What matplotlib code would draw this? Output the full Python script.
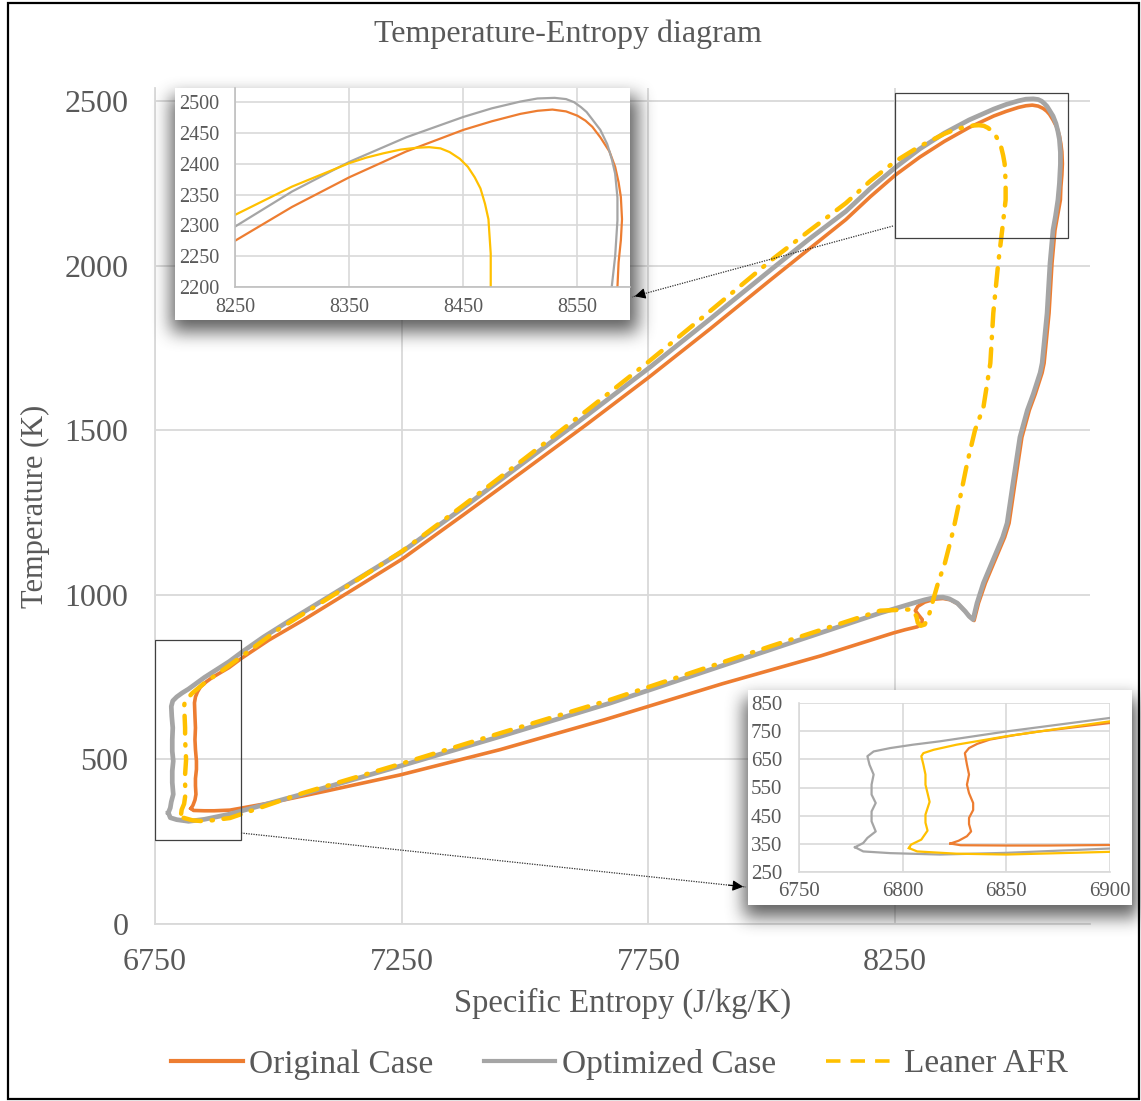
import numpy as np
import matplotlib
matplotlib.use("Agg")
import matplotlib.pyplot as plt
from matplotlib.lines import Line2D
from matplotlib.patches import Rectangle, FancyArrowPatch

plt.rcParams['font.family'] = ['Liberation Serif', 'DejaVu Serif']

# ---------------- data: closed T-s loops (entropy J/kg/K, temperature K) ----------------
orig_s = [6823, 6827, 6831, 6833, 6832, 6832, 6834, 6834, 6832, 6831, 6832, 6831, 6830,
          6832, 6836, 6842, 6854, 6866, 6900, 6926, 6980, 7050, 7150, 7250, 7375, 7500,
          7625, 7750, 7875, 8000, 8075, 8150, 8200, 8250, 8300, 8350, 8400, 8450, 8475,
          8500, 8515, 8528, 8540, 8550, 8557, 8563, 8570, 8578, 8583, 8586, 8588, 8589,
          8588, 8586, 8585, 8579, 8574, 8568, 8562, 8552, 8548, 8534, 8522, 8507, 8493,
          8481, 8472, 8461, 8433, 8419, 8410, 8402, 8394, 8378, 8362, 8347, 8330, 8310,
          8296, 8291, 8298, 8305, 8304, 8295, 8270, 8246, 8100, 7900, 7660, 7450, 7247,
          7100, 6980, 6902, 6870, 6850, 6828, 6823]
orig_T = [351, 361, 377, 394, 420, 442, 470, 495, 530, 560, 596, 631, 672,
          690, 705, 720, 736, 749, 779, 808, 862, 923, 1015, 1108, 1243, 1380,
          1518, 1660, 1808, 1960, 2050, 2140, 2210, 2275, 2330, 2378, 2420, 2455, 2469,
          2481, 2486, 2488, 2485, 2478, 2470, 2460, 2443, 2420, 2395, 2370, 2346, 2310,
          2276, 2240, 2200, 2150, 2108, 2008, 1856, 1704, 1675, 1610, 1561, 1479, 1340,
          1218, 1175, 1136, 1036, 975, 922, 932, 947, 972, 985, 989, 987, 978,
          965, 952, 938, 925, 912, 903, 894, 884, 815, 730, 620, 530, 453,
          405, 367, 346, 344, 344, 345, 351]

opt_s = [6777, 6781, 6783, 6787, 6785, 6785, 6787, 6785, 6785, 6786, 6784, 6783, 6786,
         6794, 6805, 6818, 6850, 6900, 6926, 6970, 7024, 7130, 7250, 7375, 7500, 7625,
         7750, 7875, 8000, 8075, 8150, 8200, 8250, 8300, 8350, 8400, 8450, 8475, 8500,
         8515, 8530, 8540, 8547, 8553, 8558, 8563, 8570, 8576, 8580, 8583, 8585, 8585,
         8583, 8580, 8575, 8570, 8564, 8558, 8548, 8544, 8530, 8518, 8503, 8489, 8477,
         8468, 8457, 8429, 8416, 8408, 8400, 8392, 8376, 8360, 8347, 8330, 8310, 8287,
         8220, 8000, 7672, 7450, 7247, 7050, 6902, 6850, 6818, 6794, 6781, 6777]
opt_T = [338, 353, 371, 394, 430, 465, 495, 525, 560, 596, 631, 661, 678,
         690, 702, 714, 749, 797, 826, 872, 923, 1020, 1130, 1265, 1405, 1545,
         1688, 1838, 1990, 2080, 2165, 2235, 2298, 2355, 2403, 2443, 2476, 2490, 2501,
         2506, 2507, 2505, 2500, 2492, 2484, 2472, 2455, 2432, 2408, 2384, 2345, 2308,
         2250, 2200, 2150, 2108, 2008, 1856, 1704, 1675, 1610, 1561, 1479, 1340, 1218,
         1175, 1136, 1036, 975, 925, 935, 950, 975, 988, 993, 992, 985, 975,
         945, 835, 671, 570, 480, 395, 334, 318, 312, 317, 323, 338]

lean_s = [6803, 6804, 6809, 6812, 6811, 6811, 6813, 6812, 6811, 6811, 6810, 6809, 6810,
          6815, 6826, 6850, 6900, 6950, 7000, 7125, 7250, 7375, 7500, 7625, 7750, 7875,
          8000, 8075, 8150, 8200, 8250, 8300, 8350, 8365, 8380, 8395, 8409, 8420, 8430,
          8438, 8447, 8454, 8460, 8465, 8469, 8472, 8474, 8474, 8467, 8459, 8449, 8443,
          8429, 8412, 8396, 8382, 8368, 8351, 8337, 8327, 8322, 8316, 8310, 8302, 8296,
          8293, 8285, 8220, 8000, 7672, 7450, 7247, 7050, 6902, 6850, 6826, 6807, 6803]
lean_T = [335, 347, 365, 397, 425, 454, 499, 530, 560, 596, 631, 661, 672,
          684, 702, 732, 785, 840, 895, 1012, 1132, 1272, 1415, 1560, 1708, 1862,
          2018, 2105, 2190, 2258, 2317, 2363, 2401, 2410, 2417, 2423, 2426, 2427, 2425,
          2419, 2408, 2395, 2378, 2360, 2335, 2310, 2254, 2200, 2108, 2008, 1856, 1704,
          1570, 1501, 1400, 1297, 1197, 1097, 1036, 984, 955, 928, 910, 906, 915,
          935, 956, 952, 845, 681, 580, 486, 398, 322, 312, 315, 323, 335]

series_labels = ["Original Case", "Optimized Case", "Leaner AFR"]

x_ticks = [6750, 7250, 7750, 8250]
y_ticks = [0, 500, 1000, 1500, 2000, 2500]
zoom_top_xticks = [8250, 8350, 8450, 8550]
zoom_top_yticks = [2200, 2250, 2300, 2350, 2400, 2450, 2500]
zoom_low_xticks = [6750, 6800, 6850, 6900]
zoom_low_yticks = [250, 350, 450, 550, 650, 750, 850]

ORANGE = "#ED7D31"
GRAY = "#A5A5A5"
YELLOW = "#FFC000"
TXT = "#595959"
GRID = "#D9D9D9"

W, H = 1141, 1101
fig = plt.figure(figsize=(W / 100, H / 100), dpi=100)
fig.patch.set_facecolor("white")


def frac(x0, y0, x1, y1):
    """pixel box (top-left origin) -> figure fraction [l, b, w, h]"""
    return [x0 / W, 1 - y1 / H, (x1 - x0) / W, (y1 - y0) / H]


# ---------------- main axes ----------------
ax = fig.add_axes(frac(155, 88, 1090, 924), zorder=0)
ax.set_xlim(6750, 8645)
ax.set_ylim(0, 2540)
ax.set_xticks(x_ticks)
ax.set_yticks(y_ticks)
ax.grid(True, color=GRID, lw=1.3)
ax.set_axisbelow(True)
for side in ["top", "right"]:
    ax.spines[side].set_visible(False)
for side in ["left", "bottom"]:
    ax.spines[side].set_color(GRID)
    ax.spines[side].set_linewidth(1.3)
ax.tick_params(length=0, labelsize=23, labelcolor=TXT)
ax.tick_params(axis="y", pad=19)
ax.tick_params(axis="x", pad=17)

ax.plot(orig_s, orig_T, color=ORANGE, lw=2.6, solid_joinstyle="round")
ax.plot(opt_s, opt_T, color=GRAY, lw=3.4, solid_joinstyle="round")
ax.plot(lean_s, lean_T, color=YELLOW, lw=3.2, dash_capstyle="round",
        linestyle=(0, (4.0, 2.4, 0.3, 2.4)))

ax.set_xlabel("Specific Entropy (J/kg/K)", fontsize=23.5, color=TXT)
ax.set_ylabel("Temperature (K)", fontsize=22, color=TXT)
ax.xaxis.set_label_coords(0.50, -0.076)
ax.yaxis.set_label_coords(-0.112, 0.50)

# zoom-region frames
ax.add_patch(Rectangle((8250, 2085), 350, 440, fill=False, ec="#404040", lw=0.9, zorder=5))
ax.add_patch(Rectangle((6750, 255), 175, 607, fill=False, ec="#404040", lw=0.9, zorder=5))

fig.text(568 / W, 1 - 34 / H, "Temperature-Entropy diagram", ha="center", va="center",
         fontsize=23, color=TXT)

# ---------------- soft shadows under the zoom cards ----------------
cards = [(175, 88, 630, 320), (748, 690, 1132, 905)]
alpha = np.zeros((H, W))
for (x0, y0, x1, y1) in cards:
    alpha[y0 + 8:y1 + 12, x0 - 4:x1 + 8] = 1.0


def box_blur(a, r):
    for axis in (0, 1):
        pad = [(r + 1, r) if i == axis else (0, 0) for i in range(2)]
        c = np.cumsum(np.pad(a, pad, mode="constant"), axis=axis)
        if axis == 0:
            a = (c[2 * r + 1:, :] - c[:-2 * r - 1, :]) / (2 * r + 1)
        else:
            a = (c[:, 2 * r + 1:] - c[:, :-2 * r - 1]) / (2 * r + 1)
    return a


for _ in range(3):
    alpha = box_blur(alpha, 8)
rgba = np.zeros((H, W, 4))
rgba[..., 0:3] = 0.22
rgba[..., 3] = np.clip(alpha * 0.8, 0, 1)
fig.figimage(rgba, 0, 0, origin="upper", zorder=2)

for (x0, y0, x1, y1) in cards:
    fig.add_artist(Rectangle((x0 / W, 1 - y1 / H), (x1 - x0) / W, (y1 - y0) / H,
                             transform=fig.transFigure, fc="white", ec="none", zorder=3))


def style_inset(a, xt, yt, xlim, ylim, box):
    a.set_xlim(*xlim)
    a.set_ylim(*ylim)
    a.set_xticks(xt)
    a.set_yticks(yt)
    a.grid(True, color=GRID, lw=1.2)
    a.set_axisbelow(True)
    a.tick_params(length=0, labelsize=14.5, labelcolor=TXT)
    for side in ["top", "right"]:
        a.spines[side].set_visible(False)
    for side in ["left", "bottom"]:
        a.spines[side].set_color("#BFBFBF" if not box else GRID)
        a.spines[side].set_linewidth(1.2)


# upper zoom: peak region
ax1 = fig.add_axes(frac(235, 88, 630, 287), zorder=4)
ax1.patch.set_alpha(0)
style_inset(ax1, zoom_top_xticks, zoom_top_yticks, (8250, 8596), (2200, 2523), False)
ax1.tick_params(axis="y", pad=11)
ax1.tick_params(axis="x", pad=8)
ax1.plot(orig_s, orig_T, color=ORANGE, lw=1.6)
ax1.plot(opt_s, opt_T, color=GRAY, lw=1.6)
ax1.plot(lean_s, lean_T, color=YELLOW, lw=1.6)

# lower zoom: compression start region
ax2 = fig.add_axes(frac(799, 703, 1110, 872), zorder=4)
ax2.patch.set_alpha(0)
style_inset(ax2, zoom_low_xticks, zoom_low_yticks, (6750, 6900), (250, 850), True)
ax2.tick_params(axis="y", labelsize=15, pad=12)
ax2.tick_params(axis="x", labelsize=15, pad=7)
ax2.plot(orig_s, orig_T, color=ORANGE, lw=1.6)
ax2.plot(opt_s, opt_T, color=GRAY, lw=1.6)
ax2.plot(lean_s, lean_T, color=YELLOW, lw=1.6)


# ---------------- leader arrows ----------------
def leader(p0, p1):
    fig.add_artist(Line2D([p0[0] / W, p1[0] / W], [1 - p0[1] / H, 1 - p1[1] / H],
                          transform=fig.transFigure, color="#303030", lw=0.9,
                          linestyle=(0, (1, 1)), zorder=6))
    fig.add_artist(FancyArrowPatch(
        ((p1[0] + (p0[0] - p1[0]) * 0.04) / W, 1 - (p1[1] + (p0[1] - p1[1]) * 0.04) / H),
        (p1[0] / W, 1 - p1[1] / H), transform=fig.transFigure,
        arrowstyle="-|>", mutation_scale=16, color="black", lw=0.8, zorder=6))


leader((893, 226), (632, 297))
leader((241, 833), (746, 887))

# ---------------- legend ----------------
handles = [Line2D([], [], color=ORANGE, lw=3),
           Line2D([], [], color=GRAY, lw=3),
           Line2D([], [], color=YELLOW, lw=2.6, linestyle=(0, (4, 2.8)))]
fig.legend(handles, series_labels, loc="center", bbox_to_anchor=(0.543, 1 - 1064 / H),
           ncol=3, frameon=False, fontsize=24, handlelength=2.15, handletextpad=0.2,
           columnspacing=1.5, labelcolor=TXT)

# outer frame
fig.add_artist(Rectangle((8 / W, 2 / H), (1139 - 8) / W, (1098 - 2) / H,
                         transform=fig.transFigure, fill=False, ec="black", lw=1.6, zorder=10))

fig.savefig("out.png", dpi=100)
